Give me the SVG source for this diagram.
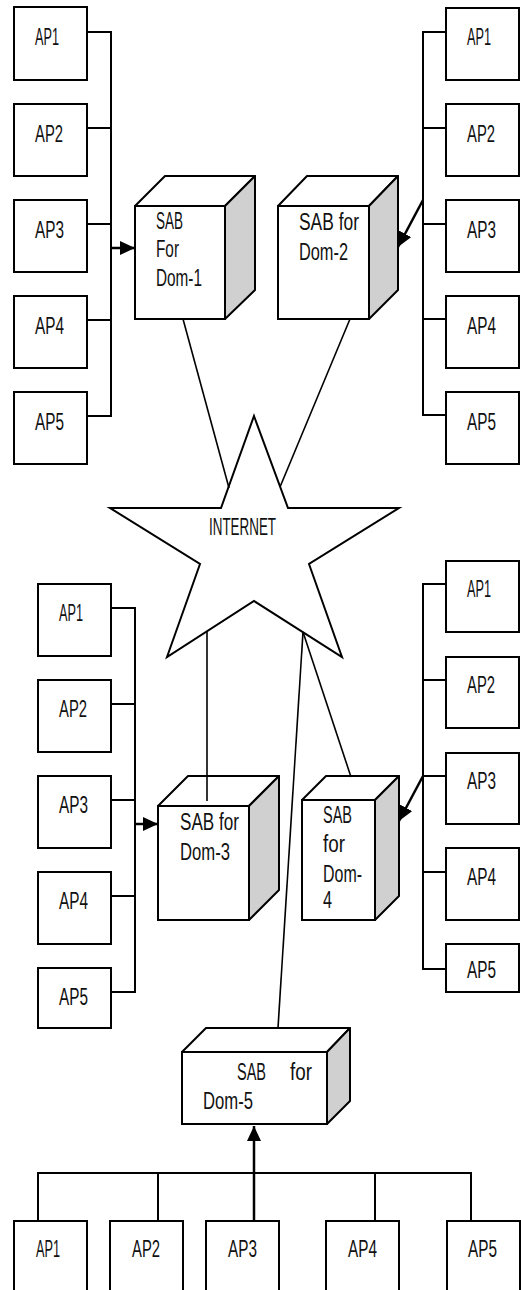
<svg xmlns="http://www.w3.org/2000/svg" width="521" height="1290" viewBox="0 0 521 1290">
<style>
.box{fill:#fff;stroke:#000;stroke-width:2}
.side{fill:#d0d0d0;stroke:#000;stroke-width:2;stroke-linejoin:round}
.top{fill:#fff;stroke:#000;stroke-width:2;stroke-linejoin:round}
.t{font-family:"Liberation Sans",Arial,sans-serif;font-size:23.5px;fill:#111}
.bus{fill:none;stroke:#000;stroke-width:2}
.ln{fill:none;stroke:#000;stroke-width:1.6}
.arr{fill:none;stroke:#000;stroke-width:2.5;marker-end:url(#ah)}
.star{fill:#fff;stroke:#000;stroke-width:2;stroke-linejoin:miter}
</style>
<defs>
<marker id="ah" markerUnits="userSpaceOnUse" markerWidth="16" markerHeight="14" refX="15" refY="7" orient="auto">
<path d="M0,0 L15,7 L0,14 z" fill="#000"/>
</marker>
</defs>

<!-- Top-left APs -->
<g id="tl-ap1"><rect class="box" x="14" y="7" width="73" height="73"/><text class="t" x="35" y="45" textLength="24" lengthAdjust="spacingAndGlyphs">AP1</text></g>
<g id="tl-ap2"><rect class="box" x="14" y="104" width="73" height="72"/><text class="t" x="35" y="142" textLength="28" lengthAdjust="spacingAndGlyphs">AP2</text></g>
<g id="tl-ap3"><rect class="box" x="14" y="200" width="73" height="72"/><text class="t" x="35" y="238" textLength="29" lengthAdjust="spacingAndGlyphs">AP3</text></g>
<g id="tl-ap4"><rect class="box" x="14" y="296" width="73" height="72"/><text class="t" x="35" y="334" textLength="29" lengthAdjust="spacingAndGlyphs">AP4</text></g>
<g id="tl-ap5"><rect class="box" x="14" y="392" width="73" height="72"/><text class="t" x="35" y="430" textLength="29" lengthAdjust="spacingAndGlyphs">AP5</text></g>

<!-- Top-right APs -->
<g id="tr-ap1"><rect class="box" x="446" y="8" width="73" height="72"/><text class="t" x="467" y="45" textLength="24" lengthAdjust="spacingAndGlyphs">AP1</text></g>
<g id="tr-ap2"><rect class="box" x="446" y="104" width="73" height="72"/><text class="t" x="467" y="142" textLength="28" lengthAdjust="spacingAndGlyphs">AP2</text></g>
<g id="tr-ap3"><rect class="box" x="446" y="200" width="73" height="72"/><text class="t" x="467" y="238" textLength="29" lengthAdjust="spacingAndGlyphs">AP3</text></g>
<g id="tr-ap4"><rect class="box" x="446" y="296" width="73" height="72"/><text class="t" x="467" y="334" textLength="29" lengthAdjust="spacingAndGlyphs">AP4</text></g>
<g id="tr-ap5"><rect class="box" x="446" y="392" width="73" height="72"/><text class="t" x="467" y="430" textLength="29" lengthAdjust="spacingAndGlyphs">AP5</text></g>

<!-- Middle-left APs -->
<g id="ml-ap1"><rect class="box" x="38" y="584" width="73" height="72"/><text class="t" x="59" y="621" textLength="24" lengthAdjust="spacingAndGlyphs">AP1</text></g>
<g id="ml-ap2"><rect class="box" x="38" y="680" width="73" height="72"/><text class="t" x="59" y="717" textLength="28" lengthAdjust="spacingAndGlyphs">AP2</text></g>
<g id="ml-ap3"><rect class="box" x="38" y="776" width="73" height="72"/><text class="t" x="59" y="813" textLength="29" lengthAdjust="spacingAndGlyphs">AP3</text></g>
<g id="ml-ap4"><rect class="box" x="38" y="872" width="73" height="72"/><text class="t" x="59" y="909" textLength="29" lengthAdjust="spacingAndGlyphs">AP4</text></g>
<g id="ml-ap5"><rect class="box" x="38" y="968" width="73" height="60"/><text class="t" x="59" y="1005" textLength="29" lengthAdjust="spacingAndGlyphs">AP5</text></g>

<!-- Middle-right APs -->
<g id="mr-ap1"><rect class="box" x="446" y="561" width="73" height="71"/><text class="t" x="467" y="597" textLength="24" lengthAdjust="spacingAndGlyphs">AP1</text></g>
<g id="mr-ap2"><rect class="box" x="446" y="657" width="73" height="71"/><text class="t" x="467" y="693" textLength="28" lengthAdjust="spacingAndGlyphs">AP2</text></g>
<g id="mr-ap3"><rect class="box" x="446" y="753" width="73" height="71"/><text class="t" x="467" y="789" textLength="29" lengthAdjust="spacingAndGlyphs">AP3</text></g>
<g id="mr-ap4"><rect class="box" x="446" y="848" width="73" height="72"/><text class="t" x="467" y="885" textLength="29" lengthAdjust="spacingAndGlyphs">AP4</text></g>
<g id="mr-ap5"><rect class="box" x="446" y="944" width="73" height="48"/><text class="t" x="467" y="978" textLength="29" lengthAdjust="spacingAndGlyphs">AP5</text></g>

<!-- Bottom APs -->
<g id="b-ap1"><rect class="box" x="14" y="1221" width="73" height="80"/><text class="t" x="36" y="1257" textLength="24" lengthAdjust="spacingAndGlyphs">AP1</text></g>
<g id="b-ap2"><rect class="box" x="110" y="1221" width="73" height="80"/><text class="t" x="132" y="1257" textLength="28" lengthAdjust="spacingAndGlyphs">AP2</text></g>
<g id="b-ap3"><rect class="box" x="206" y="1221" width="73" height="80"/><text class="t" x="228" y="1257" textLength="29" lengthAdjust="spacingAndGlyphs">AP3</text></g>
<g id="b-ap4"><rect class="box" x="326" y="1221" width="73" height="80"/><text class="t" x="348" y="1257" textLength="29" lengthAdjust="spacingAndGlyphs">AP4</text></g>
<g id="b-ap5"><rect class="box" x="447" y="1221" width="73" height="80"/><text class="t" x="468" y="1257" textLength="29" lengthAdjust="spacingAndGlyphs">AP5</text></g>

<!-- SAB cubes -->
<g id="sab1">
<polygon class="top" points="135,206 165,176 255,176 225,206"/>
<polygon class="side" points="225,206 255,176 255,290 225,319"/>
<rect class="box" x="135" y="206" width="90" height="113"/>
<text class="t" x="156" y="229" textLength="27" lengthAdjust="spacingAndGlyphs">SAB</text>
<text class="t" x="156" y="257" textLength="23" lengthAdjust="spacingAndGlyphs">For</text>
<text class="t" x="156" y="286" textLength="46" lengthAdjust="spacingAndGlyphs">Dom-1</text>
</g>
<g id="sab2">
<polygon class="top" points="278,206 307,176 398,176 369,206"/>
<polygon class="side" points="369,206 398,176 398,290 369,319"/>
<rect class="box" x="278" y="206" width="91" height="113"/>
<text class="t" x="299" y="230" textLength="60" lengthAdjust="spacingAndGlyphs">SAB for</text>
<text class="t" x="299" y="260" textLength="49" lengthAdjust="spacingAndGlyphs">Dom-2</text>
</g>
<g id="sab3">
<polygon class="top" points="158,806 188,776 279,776 249,806"/>
<polygon class="side" points="249,806 279,776 279,890 249,920"/>
<rect class="box" x="158" y="806" width="91" height="114"/>
<text class="t" x="180" y="830" textLength="59" lengthAdjust="spacingAndGlyphs">SAB for</text>
<text class="t" x="180" y="860" textLength="50" lengthAdjust="spacingAndGlyphs">Dom-3</text>
</g>
<g id="sab4">
<polygon class="top" points="302,800 326,776 399,776 375,800"/>
<polygon class="side" points="375,800 399,776 399,896 375,920"/>
<rect class="box" x="302" y="800" width="73" height="120"/>
<text class="t" x="323" y="823" textLength="29" lengthAdjust="spacingAndGlyphs">SAB</text>
<text class="t" x="323" y="852" textLength="22" lengthAdjust="spacingAndGlyphs">for</text>
<text class="t" x="323" y="882" textLength="39" lengthAdjust="spacingAndGlyphs">Dom-</text>
<text class="t" x="323" y="908" textLength="9" lengthAdjust="spacingAndGlyphs">4</text>
</g>
<g id="sab5">
<polygon class="top" points="182,1052 206,1028 350,1028 327,1052"/>
<polygon class="side" points="327,1052 350,1028 350,1101 327,1124"/>
<rect class="box" x="182" y="1052" width="145" height="72"/>
<text class="t" x="237" y="1080" textLength="29" lengthAdjust="spacingAndGlyphs">SAB</text>
<text class="t" x="290" y="1080" textLength="22" lengthAdjust="spacingAndGlyphs">for</text>
<text class="t" x="203" y="1109" textLength="50" lengthAdjust="spacingAndGlyphs">Dom-5</text>
</g>

<!-- Internet star -->
<g id="internet">
<polygon class="star" points="254,416 288,508 399,508 309,564 342,657 254,601 167,657 200,564 110,508 221,508"/>
<text class="t" x="209" y="535" textLength="67" lengthAdjust="spacingAndGlyphs">INTERNET</text>
</g>

<!-- Connectors -->
<g id="connectors">
<path class="bus" d="M87,32 H111 V416 H87 M87,128 H111 M87,224 H111 M87,320 H111"/>
<path class="bus" d="M446,32 H423 V415 H446 M446,128 H423 M446,224 H423 M446,319 H423"/>
<path class="bus" d="M111,608 H135 V992 H111 M111,704 H135 M111,800 H135 M111,896 H135"/>
<path class="bus" d="M446,584 H423 V969 H446 M446,680 H423 M446,776 H423 M446,872 H423"/>
<path class="bus" d="M38,1221 V1173 H471 V1221 M158,1173 V1221 M375,1173 V1221"/>
<line class="arr" x1="111" y1="248" x2="135" y2="248"/>
<line class="arr" x1="423" y1="200" x2="398" y2="247"/>
<line class="arr" x1="135" y1="824" x2="158" y2="824"/>
<line class="arr" x1="423" y1="776" x2="399" y2="821"/>
<line class="arr" x1="254" y1="1221" x2="254" y2="1126"/>
<line class="ln" x1="183" y1="319" x2="229" y2="488"/>
<line class="ln" x1="350" y1="319" x2="280" y2="487"/>
<line class="ln" x1="207" y1="631" x2="207" y2="801"/>
<line class="ln" x1="303" y1="632" x2="351" y2="777"/>
<line class="ln" x1="303" y1="632" x2="278" y2="1028"/>
</g>
</svg>
